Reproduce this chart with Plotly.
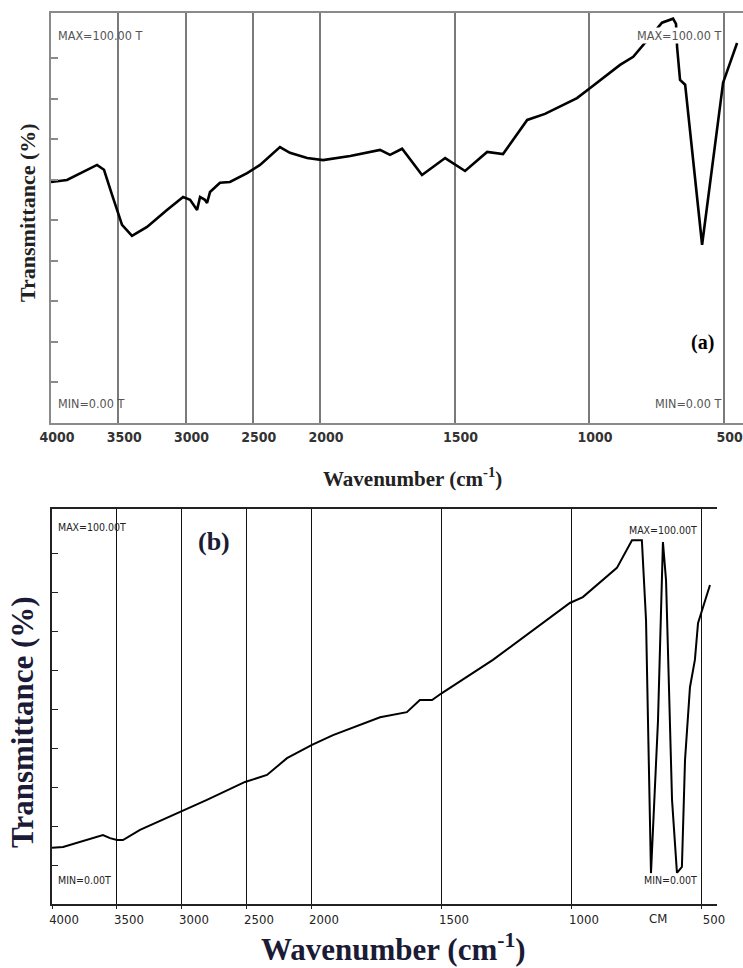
import numpy as np
import plotly.graph_objects as go

# ---------------- data ----------------
# Panel (a)
wn_a = [4000, 3881, 3658, 3606, 3546, 3472, 3398, 3286, 3138, 3018, 2966, 2914, 2892, 2856, 2840,
        2818, 2744, 2670, 2542, 2446, 2298, 2224, 2096, 1989, 1888, 1777, 1740, 1695, 1621, 1535,
        1461, 1379, 1320, 1230, 1164, 1045, 996, 885, 836, 799, 729, 688, 677, 673, 662, 643, 580,
        502, 450]
T_a = [59.5, 60.0, 63.7, 62.5, 56.3, 48.9, 46.2, 48.4, 52.6, 55.8, 55.1, 52.6, 55.8, 55.1, 54.3,
       57.0, 59.3, 59.5, 61.7, 63.7, 68.1, 66.7, 65.4, 64.9, 65.9, 67.4, 66.2, 67.7, 61.2, 65.4,
       62.2, 66.9, 66.4, 74.8, 76.3, 80.2, 82.7, 88.4, 90.4, 93.3, 98.8, 99.8, 98.5, 92.8, 84.7,
       83.5, 44.0, 84.0, 93.8]

# Panel (b)
wn_b = [4000, 3915, 3608, 3554, 3500, 3454, 3323, 3015, 2808, 2515, 2346, 2192, 2000, 1919, 1738,
        1635, 1585, 1538, 1500, 1304, 1008, 958, 827, 769, 731, 715, 696, 669, 650, 638, 615, 596,
        577, 565, 546, 527, 515, 469]
T_b = [14.4, 14.6, 17.7, 16.9, 16.4, 16.4, 19.0, 23.6, 26.7, 31.3, 33.1, 37.4, 40.8, 43.3, 47.9,
       49.2, 52.3, 52.3, 54.1, 62.6, 77.2, 78.7, 86.2, 93.3, 93.3, 72.8, 7.9, 47.0, 92.8, 83.0,
       26.7, 8.0, 9.5, 36.9, 55.6, 62.6, 72.0, 81.8]

tick_wn = [4000, 3500, 3000, 2500, 2000, 1500, 1000, 500]
tick_text = ["4000", "3500", "3000", "2500", "2000", "1500", "1000", "500"]
y_ticks = [10, 20, 30, 40, 50, 60, 70, 80, 90]


# FTIR axis: scale halves above 2000 cm-1
def to_u(wn):
    wn = np.asarray(wn, dtype=float)
    return np.where(wn >= 2000, (4000 - wn) / 2.0, 1000 + (2000 - wn))


W, H = 743, 968


def px(x):
    return x / W


def py(y):
    return 1 - y / H


SERIF = "Liberation Serif, Times New Roman, serif"
NARROW = "Liberation Sans Narrow, Arial Narrow, DejaVu Sans Condensed, Liberation Sans, sans-serif"
NAVY = "#1b1b36"

fig = go.Figure()
fig.add_trace(go.Scatter(x=to_u(wn_a), y=T_a, mode="lines", line=dict(color="black", width=2.6),
                         xaxis="x", yaxis="y", showlegend=False, hoverinfo="skip"))
fig.add_trace(go.Scatter(x=to_u(wn_b), y=T_b, mode="lines", line=dict(color="black", width=2),
                         xaxis="x2", yaxis="y2", showlegend=False, hoverinfo="skip"))

fig.update_layout(
    width=W, height=H, margin=dict(l=0, r=0, t=0, b=0, autoexpand=False),
    paper_bgcolor="white", plot_bgcolor="white",
    xaxis=dict(domain=[px(51), 1.0], anchor="y", range=[0, 2572], automargin=False,
               tickvals=list(to_u(tick_wn)), ticktext=tick_text,
               showgrid=True, gridcolor="#7a7a7a", gridwidth=1.5,
               showline=True, linecolor="#8a8a8a", linewidth=2, mirror=True,
               ticks="", zeroline=False, ticklabelshift=6, ticklabeloverflow="allow",
               tickfont=dict(family=NARROW, size=14, color="#333333", weight="bold")),
    yaxis=dict(domain=[py(423), py(13)], anchor="x", range=[0, 101.2], automargin=False,
               tickvals=y_ticks, showticklabels=False, ticks="inside", ticklen=7,
               tickcolor="#8a8a8a", tickwidth=1.5,
               showgrid=False, showline=True, linecolor="#8a8a8a", linewidth=2, zeroline=False),
    xaxis2=dict(domain=[px(52), px(717)], anchor="y2", range=[0, 2558], automargin=False,
                tickvals=list(to_u(tick_wn)), ticktext=tick_text,
                showgrid=True, gridcolor="#111111", gridwidth=1.3,
                showline=True, linecolor="#222222", linewidth=1.6, mirror=True,
                ticks="outside", ticklen=3, tickcolor="#222222", zeroline=False,
                ticklabelshift=12, ticklabeloverflow="allow",
                tickfont=dict(family=NARROW, size=13, color="#222222")),
    yaxis2=dict(domain=[py(904), py(509)], anchor="x2", range=[0, 101.3], automargin=False,
                tickvals=y_ticks, showticklabels=False, ticks="inside", ticklen=6,
                tickcolor="#222222", tickwidth=1.3,
                showgrid=False, showline=True, linecolor="#222222", linewidth=1.6, zeroline=False),
)

ann = []


def note(text, x, y, size, family=NARROW, color="#555555", xanchor="left", bg=None, angle=0,
         weight="normal"):
    d = dict(text=text, x=px(x), y=py(y), xref="paper", yref="paper", showarrow=False,
             xanchor=xanchor, yanchor="middle", textangle=angle,
             font=dict(family=family, size=size, color=color, weight=weight), borderpad=0)
    if bg:
        d["bgcolor"] = bg
    ann.append(d)


# panel (a) texts
note("MAX=100.00 T", 57, 36, 12.5)
note("MAX=100.00 T", 722, 36, 12.5, xanchor="right", bg="white")
note("MIN=0.00 T", 57, 403, 12.5)
note("MIN=0.00 T", 722, 403, 12.5, xanchor="right", bg="white")
note("(a)", 702, 343, 20, family=SERIF, color="black", xanchor="center", weight="bold")
note("Transmittance (%)", 27, 213, 22, family=SERIF, color="#222222", xanchor="center",
     angle=-90, weight="bold")
note("Wavenumber (cm<sup>-1</sup>)", 412, 477, 21, family=SERIF, color="#222222",
     xanchor="center", weight="bold")

# panel (b) texts
note("MAX=100.00T", 57, 527, 10.5, color="#222222")
note("MAX=100.00T", 698, 530, 10.5, color="#222222", xanchor="right", bg="white")
note("MIN=0.00T", 57, 880, 10.5, color="#222222")
note("MIN=0.00T", 698, 880, 10.5, color="#222222", xanchor="right", bg="white")
note("CM", 658, 918, 13, color="#222222", xanchor="center")
note("(b)", 214, 541, 26, family=SERIF, color=NAVY, xanchor="center", weight="bold")
note("Transmittance (%)", 22, 722, 31, family=SERIF, color=NAVY, xanchor="center",
     angle=-90, weight="bold")
note("Wavenumber (cm<sup>-1</sup>)", 393, 947, 31, family=SERIF, color=NAVY,
     xanchor="center", weight="bold")

fig.update_layout(annotations=ann)
fig.write_html("out.html",
               post_script="document.body.style.margin='0';document.body.style.overflow='hidden';")
